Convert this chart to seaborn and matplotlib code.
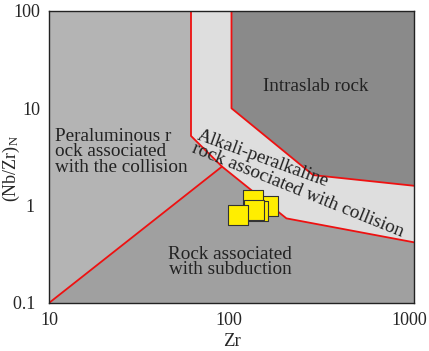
import numpy as np
import pandas as pd
import matplotlib
matplotlib.use('Agg')
import matplotlib.pyplot as plt
import matplotlib.transforms as mtransforms
import seaborn as sns

# sample data
zr = [158, 132, 140, 133, 108]
nb_zr_n = [0.98, 1.13, 0.89, 0.90, 0.80]

# field boundaries (Zr, (Nb/Zr)N)
peralum_x = [10, 60, 60, 88.7, 10]
peralum_y = [100, 100, 5.2, 2.52, 0.1]
band_x = [60, 100, 100, 280, 1000, 1000, 200, 88.7, 60]
band_y = [100, 100, 10, 2.06, 1.6, 0.42, 0.74, 2.52, 5.2]
intra_x = [100, 1000, 1000, 280, 100]
intra_y = [100, 100, 1.6, 2.06, 10]
subd_x = [10, 88.7, 200, 1000, 1000]
subd_y = [0.1, 2.52, 0.74, 0.42, 0.1]

df = pd.DataFrame({'Zr': zr, 'NbZr': nb_zr_n})

sns.set_style('white')
plt.rcParams['font.family'] = ['Liberation Serif', 'DejaVu Serif']
plt.rcParams['mathtext.fontset'] = 'custom'
plt.rcParams['mathtext.rm'] = 'Liberation Serif'
plt.rcParams['mathtext.it'] = 'Liberation Serif'

fig = plt.figure(figsize=(4.29, 3.51), dpi=100)
ax = fig.add_axes([0.1142, 0.1368, 0.8508, 0.832])
ax.set_xscale('log')
ax.set_yscale('log')

ax.fill(peralum_x, peralum_y, color='#b4b4b4', lw=0, zorder=1)
ax.fill(subd_x, subd_y, color='#a0a0a0', lw=0, zorder=1)
ax.fill(intra_x, intra_y, color='#8a8a8a', lw=0, zorder=1)
ax.fill(band_x, band_y, color='#dedede', lw=0, zorder=1)

red = '#ee1111'
ax.plot([10, 88.7], [0.1, 2.52], color=red, lw=1.3, zorder=2)
ax.plot([60, 60, 88.7, 200, 1000], [100, 5.2, 2.52, 0.74, 0.42], color=red, lw=1.3, zorder=2)
ax.plot([100, 100, 280, 1000], [100, 10, 2.06, 1.6], color=red, lw=1.3, zorder=2)

sns.scatterplot(data=df, x='Zr', y='NbZr', marker='s', s=210, color='#ffee00',
                edgecolor='#333333', linewidth=0.8, zorder=3, ax=ax, legend=False)

ax.set_xlim(10, 1000)
ax.set_ylim(0.1, 100)
ax.set_xticks([10, 100, 1000])
ax.set_xticklabels(['10', '100', '1000'])
ax.set_yticks([0.1, 1, 10, 100])
ax.set_yticklabels(['0.1 ', '1 ', '10', '100'])
ax.minorticks_off()
ax.tick_params(direction='in', length=6.5, width=1, labelsize=13, pad=6.5, color='#222222')
for s in ax.spines.values():
    s.set_color('#222222')
    s.set_linewidth(1)

# the reference nudges the right-hand x labels inward a little
xt = ax.xaxis.get_major_ticks()
for tick, dx in zip(xt[1:], [-3, -5]):
    lab = tick.label1
    lab.set_transform(lab.get_transform() + mtransforms.ScaledTranslation(dx / 100, 0, fig.dpi_scale_trans))

ax.set_xlabel('Zr', fontsize=13.5, labelpad=3)
ax.set_ylabel('(Nb/Zr)$_\\mathregular{N}$', fontsize=13)
ax.yaxis.set_label_coords(-0.075, 0.462)

fs = 13.8
tc = '#222222'
ax.text(10.8, 3.56, 'Peraluminous r\nock associated\nwith the collision', fontsize=fs,
        color=tc, ha='left', va='center', linespacing=0.89, zorder=4)
ax.text(290, 16.9, 'Intraslab rock', fontsize=fs, color=tc, ha='center', va='center', zorder=4)
ax.text(98, 0.263, 'Rock associated\nwith subduction', fontsize=fs, color=tc,
        ha='center', va='center', linespacing=0.89, zorder=4)
ax.text(64, 4.8, 'Alkali-peralkaline', fontsize=fs, color=tc, rotation=-20,
        rotation_mode='anchor', ha='left', va='baseline', zorder=4)
ax.text(59.7, 3.58, 'rock associated with collision', fontsize=fs, color=tc, rotation=-22,
        rotation_mode='anchor', ha='left', va='baseline', zorder=4)

fig.savefig('out.png', dpi=100)
